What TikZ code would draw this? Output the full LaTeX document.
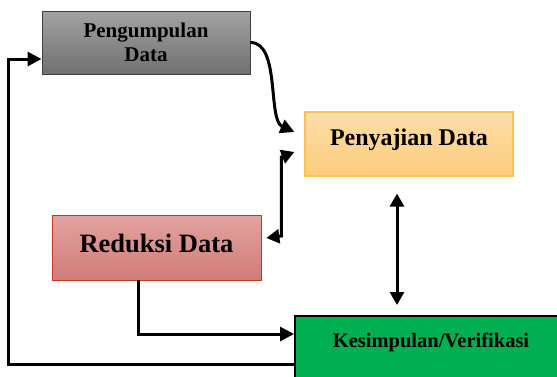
\documentclass[tikz,border=0pt]{standalone}
\usepackage{fontspec}
\setmainfont{Liberation Serif}
\usepackage{xcolor}
\usetikzlibrary{arrows.meta}

\definecolor{kumpulA}{HTML}{A2A2A2}
\definecolor{kumpulB}{HTML}{707070}
\definecolor{kumpulD}{HTML}{404040}
\definecolor{sajiA}{HTML}{FDDEA8}
\definecolor{sajiB}{HTML}{FCCC7E}
\definecolor{sajiD}{HTML}{FFC24D}
\definecolor{reduksiA}{HTML}{E2A3A0}
\definecolor{reduksiB}{HTML}{D07C77}
\definecolor{reduksiD}{HTML}{C8381F}
\definecolor{simpulG}{HTML}{00B050}

\begin{document}
\begin{tikzpicture}[x=1pt,y=-1pt,
	box/.style={rectangle,inner xsep=0pt,inner ysep=0pt},
	arr/.style={line width=3pt,-{Triangle[length=14pt,width=14pt]}},
	dbl/.style={line width=3pt,{Triangle[length=13pt,width=14pt]}-{Triangle[length=13pt,width=14pt]}}]
	\useasboundingbox (0,0) rectangle (557,376);
	
	% boxes
	\node[box,minimum width=208pt,minimum height=63pt,align=center,
		draw=kumpulD,line width=1pt,top color=kumpulA,bottom color=kumpulB,
		font=\fontsize{21}{24}\selectfont\bfseries] (kumpul) at (146,42.5) {Pengumpulan\\Data};
	\node[box,anchor=base,minimum width=208pt,text height=33pt,text depth=31pt,
		draw=sajiD,line width=1.2pt,top color=sajiA,bottom color=sajiB,
		font=\fontsize{24}{28}\selectfont\bfseries] (saji) at (409,145) {Penyajian Data};
	\node[box,anchor=base,minimum width=209pt,text height=37pt,text depth=28pt,
		draw=reduksiD,line width=0.8pt,top color=reduksiA,bottom color=reduksiB,
		font=\fontsize{26.5}{30}\selectfont\bfseries] (reduksi) at (156.5,252) {Reduksi Data};
	\node[box,anchor=base,minimum width=272pt,text height=31pt,text depth=65pt,
		draw=black,line width=2pt,fill=simpulG,
		font=\fontsize{20.5}{24}\selectfont\bfseries] (simpul) at (431,347) {Kesimpulan/Verifikasi};
	
	% arrows between the boxes
	\draw[arr] (kumpul.east) .. controls +(30,0) and +(-27,-12) .. ([xshift=-10pt,yshift=12pt]saji.west);
	\draw[dbl] ([xshift=5pt,yshift=9.5pt]reduksi.east) -- ++(15,-2)
		-- ([xshift=-23pt,yshift=-13pt]saji.west) -- ([xshift=-10pt,yshift=-8pt]saji.west);
	\draw[dbl] ([xshift=-12pt,yshift=-17pt]saji.south) -- ([xshift=-34pt,yshift=10pt]simpul.north);
	\draw[arr] ([xshift=-18.5pt]reduksi.south) |- ([yshift=30pt]simpul.west);
	
	% back to the start
	\draw[arr] (simpul.west) -- ++(-286,0) |- ([yshift=-16.5pt]kumpul.west);
\end{tikzpicture}
\end{document}
